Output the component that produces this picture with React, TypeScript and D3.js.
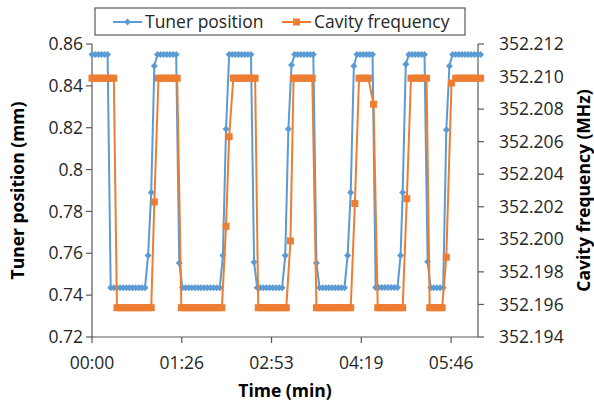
import React from "react";
import * as d3 from "d3";

// Time in seconds
const tunerTime = [
  0, 3, 6, 9, 12, 15,
  18, 21, 24, 27, 30, 33, 36, 39, 42, 45, 48, 51,
  54, 57, 60,
  63, 66, 69, 72, 75, 78, 81,
  84,
  87, 90, 93, 96, 99, 102, 105, 108, 111, 114, 117, 120, 123,
  126, 129,
  132, 135, 138, 141, 144, 147, 150, 153,
  156,
  159, 162, 165, 168, 171, 174, 177, 180, 183,
  186, 189, 192,
  195, 198, 201, 204, 207, 210, 213,
  216,
  219, 222, 225, 228, 231, 234, 237, 240, 243,
  246, 249, 252,
  255, 258, 261, 264, 267, 270,
  273, 276, 279, 282, 285, 288, 291, 294,
  297, 299, 302,
  305, 308, 311, 314, 317, 320,
  323,
  326, 329, 332, 335, 338,
  341, 344,
  347, 350, 353, 356, 359, 362, 365, 368, 371, 374,
];
const tunerPos = [
  0.855, 0.855, 0.855, 0.855, 0.855, 0.855,
  0.7435, 0.7435, 0.7435, 0.7435, 0.7435, 0.7435, 0.7435, 0.7435, 0.7435, 0.7435, 0.7435, 0.7435,
  0.759, 0.789, 0.8495,
  0.855, 0.855, 0.855, 0.855, 0.855, 0.855, 0.855,
  0.7554,
  0.7435, 0.7435, 0.7435, 0.7435, 0.7435, 0.7435, 0.7435, 0.7435, 0.7435, 0.7435, 0.7435, 0.7435, 0.7435,
  0.759, 0.8194,
  0.855, 0.855, 0.855, 0.855, 0.855, 0.855, 0.855, 0.855,
  0.7557,
  0.7435, 0.7435, 0.7435, 0.7435, 0.7435, 0.7435, 0.7435, 0.7435, 0.7435,
  0.759, 0.8194, 0.85,
  0.855, 0.855, 0.855, 0.855, 0.855, 0.855, 0.855,
  0.7554,
  0.7435, 0.7435, 0.7435, 0.7435, 0.7435, 0.7435, 0.7435, 0.7435, 0.7435,
  0.759, 0.789, 0.8495,
  0.855, 0.855, 0.855, 0.855, 0.855, 0.855,
  0.7437, 0.7437, 0.7437, 0.7437, 0.7437, 0.7437, 0.7437, 0.7437,
  0.759, 0.789, 0.8503,
  0.855, 0.855, 0.855, 0.855, 0.855, 0.855,
  0.756,
  0.7435, 0.7435, 0.7435, 0.7435, 0.7435,
  0.819, 0.8495,
  0.855, 0.855, 0.855, 0.855, 0.855, 0.855, 0.855, 0.855, 0.855, 0.855,
];

const cavityTime = [
  0, 3, 6, 9, 12, 15, 18, 21,
  24, 27, 30, 33, 36, 39, 42, 45, 48, 51, 54, 57,
  60,
  64, 67, 70, 73, 76, 79, 82,
  86, 89, 92, 95, 98, 101, 104, 107, 110, 113, 116, 119, 122, 125,
  129, 132,
  136, 139, 142, 145, 148, 151, 154, 157,
  160, 163, 166, 169, 172, 175, 178, 181, 184, 187,
  191,
  194, 197, 200, 203, 206, 209, 212,
  216, 219, 222, 225, 228, 231, 234, 237, 240, 243, 246, 249,
  253,
  257, 260, 263, 266,
  271,
  275, 278, 281, 284, 287, 290, 293, 296, 299,
  303,
  307, 310, 313, 316, 319, 322,
  325, 328, 331, 334, 337,
  341, 346,
  350, 353, 356, 359, 362, 365, 368, 371, 374,
];
const cavityFreq = [
  352.2099, 352.2099, 352.2099, 352.2099, 352.2099, 352.2099, 352.2099, 352.2099,
  352.1958, 352.1958, 352.1958, 352.1958, 352.1958, 352.1958, 352.1958, 352.1958, 352.1958, 352.1958, 352.1958, 352.1958,
  352.2023,
  352.2099, 352.2099, 352.2099, 352.2099, 352.2099, 352.2099, 352.2099,
  352.1958, 352.1958, 352.1958, 352.1958, 352.1958, 352.1958, 352.1958, 352.1958, 352.1958, 352.1958, 352.1958, 352.1958, 352.1958, 352.1958,
  352.2008, 352.2063,
  352.2099, 352.2099, 352.2099, 352.2099, 352.2099, 352.2099, 352.2099, 352.2099,
  352.1958, 352.1958, 352.1958, 352.1958, 352.1958, 352.1958, 352.1958, 352.1958, 352.1958, 352.1958,
  352.1999,
  352.2099, 352.2099, 352.2099, 352.2099, 352.2099, 352.2099, 352.2099,
  352.1958, 352.1958, 352.1958, 352.1958, 352.1958, 352.1958, 352.1958, 352.1958, 352.1958, 352.1958, 352.1958, 352.1958,
  352.2022,
  352.2099, 352.2099, 352.2099, 352.2099,
  352.2083,
  352.1958, 352.1958, 352.1958, 352.1958, 352.1958, 352.1958, 352.1958, 352.1958, 352.1958,
  352.2025,
  352.2099, 352.2099, 352.2099, 352.2099, 352.2099, 352.2099,
  352.1958, 352.1958, 352.1958, 352.1958, 352.1958,
  352.1989, 352.2096,
  352.2099, 352.2099, 352.2099, 352.2099, 352.2099, 352.2099, 352.2099, 352.2099, 352.2099,
];

const xTickValues = [0, 86.4, 172.8, 259.2, 345.6];
const xTickLabels = ["00:00", "01:26", "02:53", "04:19", "05:46"];
const leftTicks = [0.72, 0.74, 0.76, 0.78, 0.8, 0.82, 0.84, 0.86];
const leftTickLabels = ["0.72", "0.74", "0.76", "0.78", "0.8", "0.82", "0.84", "0.86"];
const rightTicks = [352.194, 352.196, 352.198, 352.2, 352.202, 352.204, 352.206, 352.208, 352.21, 352.212];
const rightTickLabels = ["352.194", "352.196", "352.198", "352.200", "352.202", "352.204", "352.206", "352.208", "352.210", "352.212"];
const seriesNames = ["Tuner position", "Cavity frequency"];

const W = 594;
const H = 405;
const M = { left: 92, right: 478, top: 44, bottom: 337 };
const BLUE = "#5B9BD5";
const ORANGE = "#ED7D31";
const AXIS = "#595959";
const TEXT = "#262626";
const FONT = "'Open Sans', 'Noto Sans', sans-serif";
const FS = 17.5;

export default function App() {
  const x = d3.scaleLinear().domain([0, 371.5]).range([M.left, M.right]);
  const yL = d3.scaleLinear().domain([0.72, 0.86]).range([M.bottom, M.top]);
  const yR = d3.scaleLinear().domain([352.194, 352.212]).range([M.bottom, M.top]);

  const tuner = tunerTime.map((t, i) => [t, tunerPos[i]] as [number, number]);
  const cavity = cavityTime.map((t, i) => [t, cavityFreq[i]] as [number, number]);

  const lineL = d3.line<[number, number]>().x((d) => x(d[0])).y((d) => yL(d[1]));
  const lineR = d3.line<[number, number]>().x((d) => x(d[0])).y((d) => yR(d[1]));

  const diamond = (cx: number, cy: number, r: number) =>
    `M${cx},${cy - r}L${cx + r},${cy}L${cx},${cy + r}L${cx - r},${cy}Z`;
  const SQ = 7;

  return (
    <svg width={W} height={H} style={{ position: "absolute", left: 0, top: 0, background: "#fff" }} fontFamily={FONT}>
      <rect x={0} y={0} width={W} height={H} fill="#fff" />

      {/* Axes */}
      <line x1={M.left} x2={M.left} y1={M.top} y2={M.bottom} stroke={AXIS} strokeWidth={1.2} />
      <line x1={M.right} x2={M.right} y1={M.top} y2={M.bottom} stroke={AXIS} strokeWidth={1.2} />
      <line x1={M.left} x2={M.right} y1={M.bottom} y2={M.bottom} stroke={AXIS} strokeWidth={1.2} />

      {leftTicks.map((v, i) => (
        <g key={"l" + i}>
          <line x1={M.left - 6} x2={M.left} y1={yL(v)} y2={yL(v)} stroke={AXIS} strokeWidth={1.2} />
          <text x={M.left - 9} y={yL(v)} dy="0.35em" textAnchor="end" fontSize={FS} fill={TEXT}>
            {leftTickLabels[i]}
          </text>
        </g>
      ))}
      {rightTicks.map((v, i) => (
        <g key={"r" + i}>
          <line x1={M.right} x2={M.right + 6} y1={yR(v)} y2={yR(v)} stroke={AXIS} strokeWidth={1.2} />
          <text x={M.right + 21} y={yR(v)} dy="0.35em" textAnchor="start" fontSize={FS} fill={TEXT}>
            {rightTickLabels[i]}
          </text>
        </g>
      ))}
      {xTickValues.map((v, i) => (
        <g key={"x" + i}>
          <line x1={x(v)} x2={x(v)} y1={M.bottom} y2={M.bottom + 6} stroke={AXIS} strokeWidth={1.2} />
          <text x={x(v)} y={M.bottom + 26} dy="0.35em" textAnchor="middle" fontSize={FS} fill={TEXT}>
            {xTickLabels[i]}
          </text>
        </g>
      ))}

      {/* Axis titles */}
      <text x={(M.left + M.right) / 2} y={391} dy="0.35em" textAnchor="middle" fontSize={FS} fontWeight="bold" fill="#000">
        Time (min)
      </text>
      <text transform={`translate(18,${(M.top + M.bottom) / 2}) rotate(-90)`} dy="0.35em" textAnchor="middle" fontSize={FS} fontWeight="bold" fill="#000">
        Tuner position (mm)
      </text>
      <text transform={`translate(584,${(M.top + M.bottom) / 2}) rotate(-90)`} dy="0.35em" textAnchor="middle" fontSize={FS} fontWeight="bold" fill="#000">
        Cavity frequency (MHz)
      </text>

      {/* Tuner series */}
      <path d={lineL(tuner) || ""} fill="none" stroke={BLUE} strokeWidth={2} strokeLinejoin="round" />
      {tuner.map((d, i) => (
        <path key={"tm" + i} d={diamond(x(d[0]), yL(d[1]), 3.5)} fill={BLUE} />
      ))}

      {/* Cavity series */}
      <path d={lineR(cavity) || ""} fill="none" stroke={ORANGE} strokeWidth={2} strokeLinejoin="round" />
      {cavity.map((d, i) => (
        <rect key={"cm" + i} x={x(d[0]) - SQ / 2} y={yR(d[1]) - SQ / 2} width={SQ} height={SQ} fill={ORANGE} />
      ))}

      {/* Legend */}
      <rect x={95} y={8} width={370} height={27} fill="#fff" stroke={AXIS} strokeWidth={1.2} />
      <line x1={113} x2={142} y1={22} y2={22} stroke={BLUE} strokeWidth={2} />
      <path d={diamond(127.5, 22, 3.5)} fill={BLUE} />
      <text x={145} y={22} dy="0.35em" fontSize={FS} fill={TEXT}>
        {seriesNames[0]}
      </text>
      <line x1={282} x2={311} y1={22} y2={22} stroke={ORANGE} strokeWidth={2} />
      <rect x={296.5 - SQ / 2} y={22 - SQ / 2} width={SQ} height={SQ} fill={ORANGE} />
      <text x={314} y={22} dy="0.35em" fontSize={FS} fill={TEXT}>
        {seriesNames[1]}
      </text>
    </svg>
  );
}
